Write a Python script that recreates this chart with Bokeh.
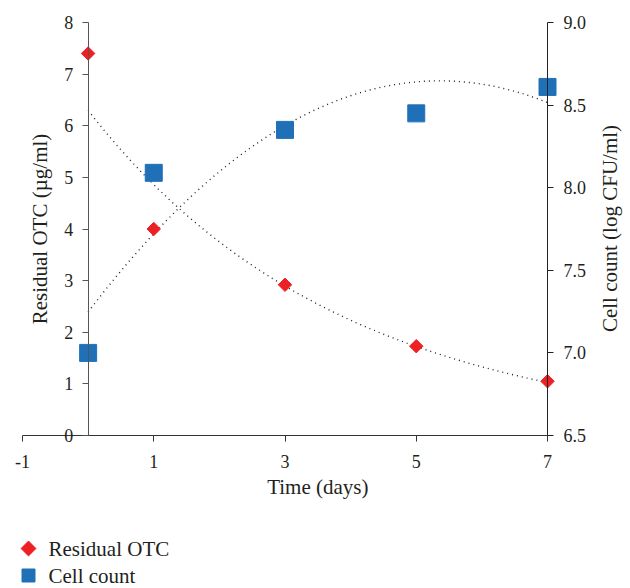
import numpy as np
from bokeh.plotting import figure
from bokeh.models import (Range1d, LinearAxis, FixedTicker, PrintfTickFormatter,
                          Label)
from bokeh.core.properties import value
from bokeh.embed import file_html
from bokeh.resources import INLINE

# ---- data ----
days = [0, 1, 3, 5, 7]
residual_otc = [7.4, 4.0, 2.92, 1.73, 1.05]      # µg/ml (left axis)
cell_count = [7.0, 8.09, 8.35, 8.45, 8.61]       # log CFU/ml (right axis)
x_ticks = [-1, 1, 3, 5, 7]
left_ticks = [0, 1, 2, 3, 4, 5, 6, 7, 8]
right_ticks = [6.5, 7.0, 7.5, 8.0, 8.5, 9.0]
series_names = ["Residual OTC", "Cell count"]

FONT = "Liberation Serif"
RED = "#ED2024"
BLUE = "#2070B8"
TXT = "#231F20"

W, H = 630, 588
# plotting area in pixels: x -1..7 -> 22..547, left y 0..8 -> 435..22
PX_L, PX_R, PY_T, PY_B = 22, 547, 22, 435
kx = (7 - (-1)) / (PX_R - PX_L)
ky = (8 - 0) / (PY_B - PY_T)
kr = (9.0 - 6.5) / (PY_B - PY_T)
x_range = Range1d(-1 - PX_L * kx, 7 + (W - PX_R) * kx)
y_range = Range1d(0 - (H - PY_B) * ky, 8 + PY_T * ky)
r_range = Range1d(6.5 - (H - PY_B) * kr, 9.0 + PY_T * kr)


def px_to_x(px):
    return -1 + (px - PX_L) * kx


def py_to_y(py):
    return (PY_B - py) * ky


# trendlines fitted to the data: exponential (OTC), polynomial order 2 (cells)
xt = np.linspace(0, 7, 200)
b, ln_a = np.polyfit(days, np.log(residual_otc), 1)
otc_fit = np.exp(ln_a) * np.exp(b * xt)
cell_fit = np.polyval(np.polyfit(days, cell_count, 2), xt)

p = figure(width=W, height=H, output_backend="svg", toolbar_location=None,
           x_range=x_range, y_range=y_range, min_border=0)
p.extra_y_ranges = {"cell": r_range}
p.outline_line_color = None
p.xgrid.visible = False
p.ygrid.visible = False

# x axis at y = 0
xa = p.xaxis[0]
xa.fixed_location = 0
xa.ticker = FixedTicker(ticks=x_ticks)
xa.major_label_overrides = {-1: "-1"}
xa.bounds = (-1, 7)
xa.minor_tick_line_color = None
xa.major_tick_out = 6
xa.major_tick_in = 0
xa.axis_line_color = "#333333"
xa.major_tick_line_color = "#333333"
xa.major_label_text_font = FONT
xa.major_label_text_font_size = "18px"
xa.major_label_text_color = TXT
xa.major_label_standoff = 13

# left axis at x = 0
ya = p.yaxis[0]
ya.fixed_location = 0
ya.bounds = (0, 8)
ya.ticker = FixedTicker(ticks=left_ticks)
ya.minor_tick_line_color = None
ya.major_tick_out = 6
ya.major_tick_in = 0
ya.axis_line_color = "#555555"
ya.major_tick_line_color = "#555555"
ya.major_label_text_font = FONT
ya.major_label_text_font_size = "18px"
ya.major_label_text_color = TXT
ya.major_label_standoff = 9
ya.axis_label = "Residual OTC (µg/ml)"
ya.axis_label_text_font = FONT
ya.axis_label_text_font_size = "21px"
ya.axis_label_text_font_style = "normal"
ya.axis_label_text_color = TXT
ya.axis_label_standoff = 10

# right axis at x = 7
ra = LinearAxis(y_range_name="cell", fixed_location=7, bounds=(6.5, 9.0),
                ticker=FixedTicker(ticks=right_ticks),
                formatter=PrintfTickFormatter(format="%.1f"))
ra.minor_tick_line_color = None
ra.major_tick_out = 6
ra.major_tick_in = 0
ra.axis_line_color = "#222222"
ra.major_tick_line_color = "#222222"
ra.major_label_text_font = FONT
ra.major_label_text_font_size = "18px"
ra.major_label_text_color = TXT
ra.major_label_standoff = 10
p.add_layout(ra, "right")

# right axis title, reading bottom to top
p.add_layout(Label(x=px_to_x(609), y=py_to_y(228), angle=np.pi / 2,
                   text="Cell count (log CFU/ml)", text_align="center",
                   text_baseline="middle", text_font=FONT,
                   text_font_size="21px", text_color=TXT))

# trendlines
p.line(xt, otc_fit, line_color="#222222", line_width=1.4, line_dash="1 4")
p.line(xt, cell_fit, line_color="#222222", line_width=1.4, line_dash="1 4",
       y_range_name="cell")

# markers
p.scatter(days, residual_otc, marker="square", angle=np.pi / 4,
          size=9.5, fill_color=RED, line_color=RED)
p.scatter(days, cell_count, marker="square", size=17,
          fill_color=BLUE, line_color=BLUE, y_range_name="cell")

# x axis title centred between the two y axes
p.add_layout(Label(x=3.5, y=-1.007, text="Time (days)", text_align="center",
                   text_baseline="middle", text_font=FONT,
                   text_font_size="21px", text_color=TXT))

# legend (key markers + labels) below the chart
key_x = [px_to_x(28), px_to_x(28)]
key_y = [py_to_y(548), py_to_y(575)]
p.scatter(key_x, key_y, marker="square", angle=[np.pi / 4, 0],
          size=[10.5, 13], fill_color=[RED, BLUE], line_color=[RED, BLUE])
p.text([px_to_x(48)] * 2, key_y, text=series_names, text_font=value(FONT),
       text_font_size="21px", text_color=TXT, text_baseline="middle",
       text_align="left")

open("out.html", "w").write(file_html(p, INLINE))
